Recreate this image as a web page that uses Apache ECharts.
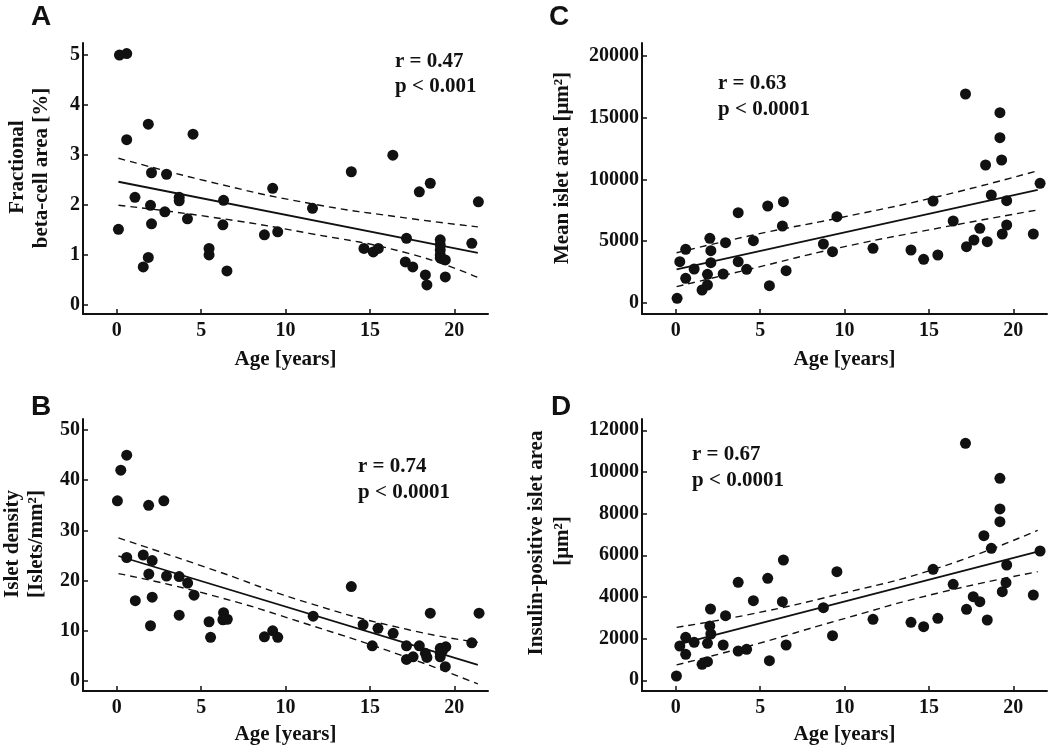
<!DOCTYPE html>
<html><head><meta charset="utf-8">
<script src="https://cdn.jsdelivr.net/npm/echarts@6/dist/echarts.min.js"></script>
<style>html,body{margin:0;padding:0;background:#fff}#c{width:1050px;height:749px}</style>
</head><body><div id="c"></div>
<script>
// ---- tick labels ----
const xTicks = [0, 5, 10, 15, 20];
const ticksA = [0, 1, 2, 3, 4, 5];
const ticksB = [0, 10, 20, 30, 40, 50];
const ticksC = [0, 5000, 10000, 15000, 20000];
const ticksD = [0, 2000, 4000, 6000, 8000, 10000, 12000];

// ---- Panel A: fractional beta-cell area [%] ----
const agesA = [0.1,0.16,0.59,0.59,1.08,1.57,1.87,1.87,2.06,2.0,2.06,2.85,2.95,3.7,3.7,4.19,4.52,5.47,5.47,6.33,6.29,6.53,8.75,9.54,9.24,11.6,13.9,14.65,15.2,15.5,16.36,17.17,17.1,17.54,17.93,18.58,18.29,18.38,19.17,19.17,19.17,19.17,19.17,19.47,19.47,21.04,21.43];
const valuesA = [1.51,4.99,5.02,3.30,2.15,0.76,3.61,0.95,2.64,1.99,1.62,1.86,2.61,2.15,2.08,1.72,3.41,1.13,1.00,2.09,1.60,0.68,1.40,1.46,2.33,1.93,2.66,1.13,1.06,1.13,2.99,1.33,0.86,0.76,2.26,2.43,0.60,0.40,1.30,1.20,1.10,1.00,0.94,0.90,0.56,1.23,2.06];
const fitA = [[0.1,2.46],[21.4,1.04]];
const upperA = [[0.1,2.93],[5.5,2.46],[11.4,2.03],[17.3,1.73],[21.4,1.56]];
const lowerA = [[0.1,1.99],[5.5,1.76],[11.4,1.43],[17.3,1.03],[21.4,0.55]];

// ---- Panel B: islet density [islets/mm2] ----
const agesB = [0.04,0.24,0.59,0.59,1.1,1.57,1.89,1.9,2.1,2.1,2.0,2.79,2.95,3.7,3.7,4.2,4.58,5.47,5.56,6.33,6.29,6.55,8.75,9.24,9.54,11.64,13.9,14.6,15.14,15.48,16.38,17.17,17.17,17.56,17.93,18.29,18.38,18.58,19.17,19.17,19.17,19.3,19.5,19.47,21.04,21.47];
const valuesB = [35.9,42.0,45.0,24.6,16.0,25.1,35.0,21.3,24.0,16.7,11.0,35.9,20.9,20.8,13.1,19.5,17.1,11.8,8.7,13.6,12.2,12.3,8.8,10.0,8.7,12.9,18.8,11.2,7.0,10.5,9.5,7.0,4.3,4.8,7.0,5.5,4.7,13.5,6.5,5.5,4.8,6.0,6.8,2.85,7.6,13.5];
const fitB = [[0.1,24.9],[21.4,3.2]];
const upperB = [[0.1,28.5],[5.5,22.4],[11.4,15.5],[17.3,10.2],[21.4,7.7]];
const lowerB = [[0.1,21.4],[5.5,17.2],[11.4,11.2],[17.3,4.6],[21.4,-0.6]];

// ---- Panel C: mean islet area [um2] ----
const agesC = [0.08,0.24,0.59,0.59,1.09,1.56,1.88,1.88,2.02,2.08,2.08,2.81,2.95,3.7,3.7,4.2,4.6,5.45,5.55,6.38,6.32,6.54,8.75,9.29,9.55,11.69,13.94,14.69,15.25,15.53,16.44,17.17,17.23,17.67,18.02,18.36,18.46,18.7,19.21,19.21,19.31,19.61,19.61,19.35,21.19,21.59];
const valuesC = [356,3324,4329,1978,2732,1030,1435,2302,5221,4216,3243,2327,4864,7296,3324,2708,5026,7839,1378,8188,6218,2594,4759,4135,6972,4410,4272,3518,8245,3867,6623,16919,4540,5083,6032,11163,4945,8731,15405,13378,11569,8269,6299,5570,5570,9680];
const fitC = [[0.05,2700],[21.45,9140]];
const upperC = [[0.05,4050],[4.6,5490],[9.55,6840],[15.5,8590],[21.45,10700]];
const lowerC = [[0.05,1300],[4.6,2790],[9.55,4410],[15.5,6030],[21.45,7520]];

// ---- Panel D: insulin-positive islet area [um2] ----
const agesD = [0.04,0.24,0.59,0.59,1.09,1.56,1.88,1.88,2.06,2.02,2.08,2.81,2.95,3.7,3.7,4.2,4.6,5.45,5.55,6.38,6.32,6.54,8.75,9.29,9.55,11.69,13.94,14.69,15.25,15.53,16.44,17.17,17.23,17.63,18.02,18.26,18.46,18.7,19.21,19.21,19.21,19.35,19.57,19.61,21.19,21.59];
const valuesD = [206,1646,2064,1248,1824,768,893,1776,3422,2606,2222,1694,3101,4704,1406,1488,3821,4896,941,5774,3773,1694,3485,2141,5213,2928,2784,2573,5328,2976,4608,11376,3408,4013,3773,6944,2894,6336,9696,8224,7616,4253,4685,5534,4094,6206];
const fitD = [[0.05,1700],[21.45,6180]];
const upperD = [[0.05,2540],[4.6,3200],[9.5,4100],[15.5,5380],[21.45,7200]];
const lowerD = [[0.05,740],[4.6,1700],[9.5,2850],[15.5,4180],[21.45,5210]];

// ---- texts ----
const panelLetters = ['A', 'B', 'C', 'D'];
const statsA = ['r = 0.47', 'p < 0.001'];
const statsB = ['r = 0.74', 'p < 0.0001'];
const statsC = ['r = 0.63', 'p < 0.0001'];
const statsD = ['r = 0.67', 'p < 0.0001'];
const xTitle = 'Age [years]';

const SERIF = '"Liberation Serif", "Times New Roman", serif';
const SANS = '"Liberation Sans", Arial, sans-serif';
const INK = '#111';

const panels = [
  { grid: {left: 83, top: 43, width: 405, height: 271}, ymin: -0.18, ymax: 5.23, yt: ticksA, ages: agesA, vals: valuesA, fit: fitA, up: upperA, lo: lowerA, gap: 35 },
  { grid: {left: 83, top: 419, width: 405, height: 272}, ymin: -2.0, ymax: 52.2, yt: ticksB, ages: agesB, vals: valuesB, fit: fitB, up: upperB, lo: lowerB, gap: 33 },
  { grid: {left: 642, top: 43, width: 405, height: 271}, ymin: -916, ymax: 21054, yt: ticksC, ages: agesC, vals: valuesC, fit: fitC, up: upperC, lo: lowerC, gap: 35 },
  { grid: {left: 642, top: 419, width: 405, height: 272}, ymin: -514, ymax: 12542, yt: ticksD, ages: agesD, vals: valuesD, fit: fitD, up: upperD, lo: lowerD, gap: 33 }
];

const labelStyle = {fontFamily: SERIF, fontWeight: 'bold', fontSize: 20, color: INK, formatter: v => String(v)};

const option = {
  animation: false,
  backgroundColor: '#fff',
  grid: panels.map(p => Object.assign({containLabel: false}, p.grid)),
  xAxis: panels.map((p, i) => ({
    type: 'value', gridIndex: i, min: -2, max: 22,
    axisLine: {onZero: false, lineStyle: {color: INK, width: 2}},
    axisTick: {inside: true, length: 5, customValues: xTicks, lineStyle: {color: INK, width: 1.5}},
    axisLabel: Object.assign({customValues: xTicks, margin: 7}, labelStyle),
    splitLine: {show: false},
    name: xTitle, nameLocation: 'middle', nameGap: p.gap,
    nameTextStyle: {fontFamily: SERIF, fontWeight: 'bold', fontSize: 21, color: INK}
  })),
  yAxis: panels.map((p, i) => ({
    type: 'value', gridIndex: i, min: p.ymin, max: p.ymax,
    axisLine: {show: true, onZero: false, lineStyle: {color: INK, width: 2}},
    axisTick: {show: true, inside: true, length: 5, customValues: p.yt, lineStyle: {color: INK, width: 1.5}},
    axisLabel: Object.assign({customValues: p.yt, margin: 3}, labelStyle),
    splitLine: {show: false}
  })),
  series: []
};

panels.forEach((p, i) => {
  const dashed = {color: INK, width: 1.4, type: [7, 5]};
  option.series.push({type: 'line', xAxisIndex: i, yAxisIndex: i, data: p.fit, symbol: 'none', lineStyle: {color: INK, width: 1.8}, z: 2, silent: true});
  option.series.push({type: 'line', xAxisIndex: i, yAxisIndex: i, data: p.up, symbol: 'none', smooth: 0.5, lineStyle: dashed, z: 2, silent: true});
  option.series.push({type: 'line', xAxisIndex: i, yAxisIndex: i, data: p.lo, symbol: 'none', smooth: 0.5, lineStyle: dashed, z: 2, silent: true});
  option.series.push({type: 'scatter', xAxisIndex: i, yAxisIndex: i, data: p.ages.map((a, k) => [a, p.vals[k]]), symbol: 'circle', symbolSize: 11, itemStyle: {color: INK, opacity: 1}, z: 3, silent: true});
});

function txt(x, y, text, extra) {
  return {type: 'text', x: x, y: y, silent: true, style: Object.assign({text: text, fill: INK, font: 'bold 21px ' + SERIF, textAlign: 'left', textVerticalAlign: 'middle'}, extra || {})};
}
function vtxt(x, y, text) {
  return {type: 'text', x: x, y: y, rotation: Math.PI / 2, silent: true, style: {text: text, fill: INK, font: 'bold 21px ' + SERIF, textAlign: 'center', textVerticalAlign: 'middle'}};
}
const letterFont = 'bold 28px ' + SANS;
const graphics = [
  txt(31, 17, panelLetters[0], {font: letterFont}),
  txt(31, 407, panelLetters[1], {font: letterFont}),
  txt(549, 17, panelLetters[2], {font: letterFont}),
  txt(551, 407, panelLetters[3], {font: letterFont}),
  txt(395, 62, statsA[0]), txt(395, 87, statsA[1]),
  txt(358, 467, statsB[0]), txt(358, 493, statsB[1]),
  txt(718, 84, statsC[0]), txt(718, 110, statsC[1]),
  txt(692, 455, statsD[0]), txt(692, 481, statsD[1]),
  vtxt(18, 167, 'Fractional'),
  vtxt(42, 168, 'beta-cell area [%]'),
  vtxt(13, 544, 'Islet density'),
  vtxt(37, 544, '[Islets/mm²]'),
  vtxt(563, 168, 'Mean islet area [μm²]'),
  vtxt(537, 543, 'Insulin-positive islet area'),
  vtxt(563, 541, '[μm²]')
];
option.graphic = graphics;

const chart = echarts.init(document.getElementById('c'), null, {renderer: 'canvas'});
chart.setOption(option);
</script>
</body></html>
